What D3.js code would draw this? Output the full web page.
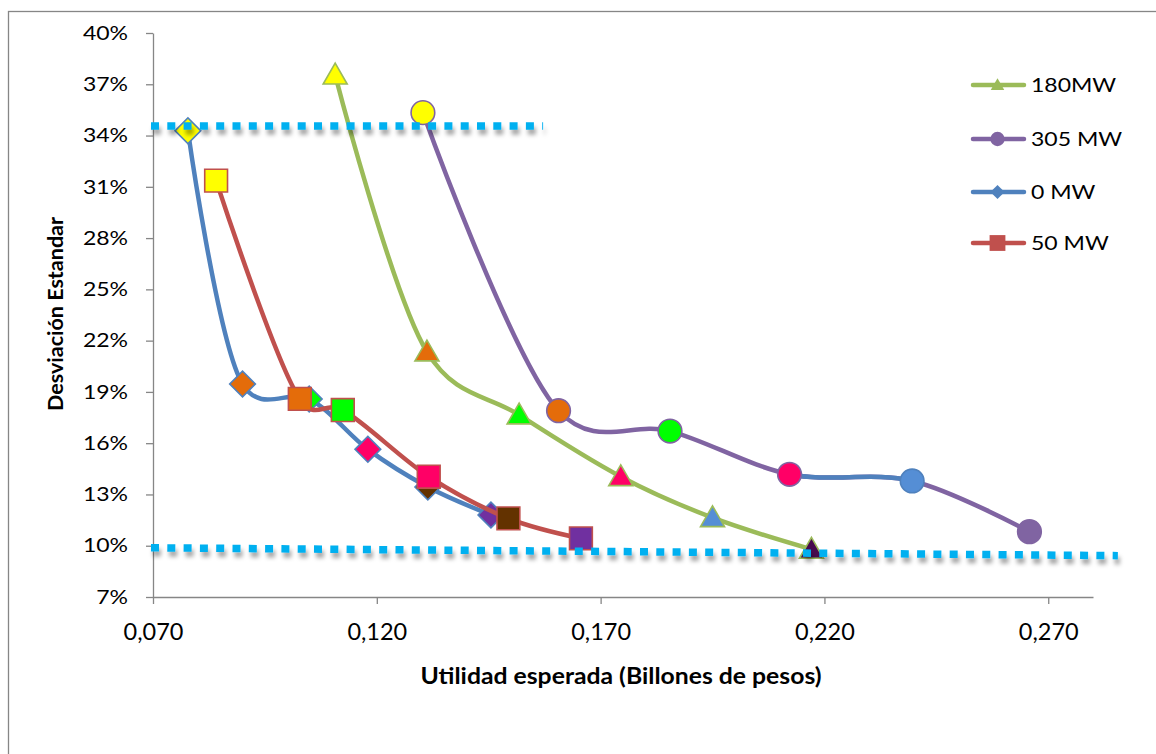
<!DOCTYPE html>
<html>
<head>
<meta charset="utf-8">
<script src="https://cdn.jsdelivr.net/npm/d3@7"></script>
<style>
  html, body { margin: 0; padding: 0; background: #fff; }
  svg { display: block; font-family: Lato, "Open Sans", sans-serif; }
</style>
</head>
<body>
<svg id="chart" width="1156" height="754"></svg>
<script>
// ---------------- DATA ----------------
const seriesNames = ["180MW", "305 MW", "0 MW", "50 MW"];

// Utilidad esperada (billones de pesos) / Desviación estándar (%)
const x180 = [0.1107, 0.1312, 0.1518, 0.1745, 0.1950, 0.2171];
const y180 = [37.54, 21.34, 17.65, 14.04, 11.64, 9.79];

const x305 = [0.1303, 0.1606, 0.1855, 0.2122, 0.2396, 0.2658];
const y305 = [35.34, 17.90, 16.71, 14.18, 13.79, 10.82];

const x0 = [0.0778, 0.0900, 0.1049, 0.1180, 0.1314, 0.1455];
const y0 = [34.28, 19.46, 18.59, 15.64, 13.44, 11.80];

const x50 = [0.0841, 0.1028, 0.1124, 0.1316, 0.1494, 0.1656];
const y50 = [31.36, 18.59, 17.94, 14.04, 11.60, 10.43];

// dotted reference lines (axis units)
const refTopX = [0.070, 0.1576];
const refTopY = [34.56, 34.56];
const refBotX = [0.070, 0.2860];
const refBotY = [9.88, 9.42];

const xTicks = [0.070, 0.120, 0.170, 0.220, 0.270];
const yTicks = [7, 10, 13, 16, 19, 22, 25, 28, 31, 34, 37, 40];

// ---------------- STYLES ----------------
const lineColors = { "180MW": "#9BBB59", "305 MW": "#8064A2", "0 MW": "#4F81BD", "50 MW": "#C0504D" };
const fills180 = ["#FFFF00", "#E46C0A", "#00FF00", "#FF0066", "#558ED5", "#470A4E"];
const fills305 = ["#FFFF00", "#E46C0A", "#00FF00", "#FF0066", "#558ED5", "#8064A2"];
const fills0   = ["#FFFF00", "#E46C0A", "#00FF00", "#FF0066", "#633200", "#7030A0"];
const fills50  = ["#FFFF00", "#E46C0A", "#00FF00", "#FF0066", "#633200", "#7030A0"];

const svg = d3.select("#chart");
const W = 1156, H = 754;

// outer chart frame
svg.append("rect").attr("x", 8.5).attr("y", 11.5).attr("width", 1300).attr("height", 900)
  .attr("fill", "#fff").attr("stroke", "#868686").attr("stroke-width", 1.3);

const plot = { left: 153, right: 1093, top: 33, bottom: 597 };
const x = d3.scaleLinear().domain([0.07, 0.28]).range([plot.left, plot.right]);
const y = d3.scaleLinear().domain([7, 40]).range([plot.bottom, plot.top]);

// helper: horizontal text scale around anchor point
function hscale(sel, sx) {
  sel.each(function () {
    const t = d3.select(this);
    const tx = +t.attr("x") || 0, ty = +t.attr("y") || 0;
    const prev = t.attr("transform") || "";
    t.attr("transform", `${prev} translate(${tx},${ty}) scale(${sx},1) translate(${-tx},${-ty})`);
  });
}

// defs
const defs = svg.append("defs");
const f = defs.append("filter").attr("id", "shadow").attr("filterUnits", "userSpaceOnUse")
  .attr("x", 0).attr("y", 0).attr("width", W).attr("height", H);
f.append("feDropShadow").attr("dx", 2).attr("dy", 5).attr("stdDeviation", 2)
  .attr("flood-color", "#000").attr("flood-opacity", 0.35);
defs.append("clipPath").attr("id", "seg305")
  .append("rect")
  .attr("x", x(x305[3])).attr("y", 0)
  .attr("width", x(x305[4]) - x(x305[3])).attr("height", H);

// axes
const fmtX = d => d3.format(".3f")(d).replace(".", ",");
const xAxis = svg.append("g").attr("transform", `translate(0,${plot.bottom})`)
  .call(d3.axisBottom(x).tickValues(xTicks).tickFormat(fmtX).tickSize(7).tickSizeOuter(0).tickPadding(19));
const yAxis = svg.append("g").attr("transform", `translate(${plot.left},0)`)
  .call(d3.axisLeft(y).tickValues(yTicks).tickFormat(d => d + "%").tickSize(7).tickSizeOuter(0).tickPadding(18));
[xAxis, yAxis].forEach(a => {
  a.select(".domain").attr("stroke", "#868686").attr("stroke-width", 1.3);
  a.selectAll(".tick line").attr("stroke", "#868686").attr("stroke-width", 1.3);
  a.selectAll(".tick text").attr("fill", "#000").attr("font-family", "Lato, sans-serif");
});
xAxis.selectAll(".tick text").attr("font-size", 23.5);
yAxis.selectAll(".tick text").attr("font-size", 19.5);
hscale(yAxis.selectAll(".tick text"), 1.18);

// axis titles
const xt = svg.append("text").attr("x", 621).attr("y", 684).attr("text-anchor", "middle")
  .attr("font-weight", "bold").attr("font-size", 22.5).attr("fill", "#000")
  .text("Utilidad esperada (Billones de pesos)");
hscale(xt, 1.1);
const yt = svg.append("text").attr("x", 0).attr("y", 0).attr("text-anchor", "middle")
  .attr("font-weight", "bold").attr("font-size", 21.5).attr("fill", "#000")
  .attr("transform", "translate(63,314) rotate(-90)")
  .text("Desviación Estandar");

// series
const symTri = d3.symbol().type(d3.symbolTriangle);
const symCirc = d3.symbol().type(d3.symbolCircle);
const symSq = d3.symbol().type(d3.symbolSquare);

const series = [
  { name: "180MW", xs: x180, ys: y180, fills: fills180, sym: symTri, size: 250, rot: 0, dy: 2 },
  { name: "305 MW", xs: x305, ys: y305, fills: fills305, sym: symCirc, size: 440, rot: 0, dy: 0 },
  { name: "0 MW", xs: x0, ys: y0, fills: fills0, sym: symSq, size: 330, rot: 45, dy: 0 },
  { name: "50 MW", xs: x50, ys: y50, fills: fills50, sym: symSq, size: 520, rot: 0, dy: 0 }
];

const line = d3.line().x(d => x(d[0])).y(d => y(d[1])).curve(d3.curveCatmullRom.alpha(0.2));

series.forEach(s => {
  const pts = s.xs.map((v, i) => [v, s.ys[i]]);
  const g = svg.append("g");
  g.append("path").attr("d", line(pts)).attr("fill", "none")
    .attr("stroke", lineColors[s.name]).attr("stroke-width", 4.5)
    .attr("stroke-linecap", "round").attr("stroke-linejoin", "round");
  if (s.name === "305 MW") {
    g.append("path").attr("d", line(pts)).attr("fill", "none")
      .attr("clip-path", "url(#seg305)")
      .attr("stroke", "#4F81BD").attr("stroke-width", 4.5);
  }
  g.selectAll("path.m").data(pts).enter().append("path").attr("class", "m")
    .attr("d", s.sym.size(s.size))
    .attr("transform", d => `translate(${x(d[0])},${y(d[1]) + s.dy}) rotate(${s.rot})`)
    .attr("fill", (d, i) => s.fills[i])
    .attr("stroke", (d, i) => {
      if (s.name === "305 MW" && i === 5) return s.fills[i];
      if (s.name === "305 MW" && i === 4) return "#4F81BD";
      return lineColors[s.name];
    })
    .attr("stroke-width", 1.6);
});

// dotted reference lines
const refLine = d3.line().x(d => x(d[0])).y(d => y(d[1]));
[[refTopX, refTopY], [refBotX, refBotY]].forEach(([xs, ys]) => {
  svg.append("path").attr("d", refLine(xs.map((v, i) => [v, ys[i]])))
    .attr("fill", "none").attr("stroke", "#00B0F0").attr("stroke-width", 7.5)
    .attr("stroke-dasharray", "8,8.3").attr("filter", "url(#shadow)")
    .attr("transform", "translate(-2,0)");
});

// legend
const legY = [85, 139, 192, 243];
const legSyms = [
  { sym: symTri, size: 80, rot: 0, dy: 1 },
  { sym: symCirc, size: 160, rot: 0, dy: 0 },
  { sym: symSq, size: 100, rot: 45, dy: 0 },
  { sym: symSq, size: 250, rot: 0, dy: 0 }
];
const leg = svg.append("g");
seriesNames.forEach((n, i) => {
  const c = lineColors[n];
  leg.append("line").attr("x1", 973).attr("x2", 1024).attr("y1", legY[i]).attr("y2", legY[i])
    .attr("stroke", c).attr("stroke-width", 4.5).attr("stroke-linecap", "round");
  leg.append("path").attr("d", legSyms[i].sym.size(legSyms[i].size)())
    .attr("transform", `translate(997.5,${legY[i] + legSyms[i].dy}) rotate(${legSyms[i].rot})`)
    .attr("fill", c);
  const t = leg.append("text").attr("x", 1031).attr("y", legY[i]).attr("dy", "0.35em")
    .attr("font-size", 19.5).attr("fill", "#000").text(n);
  hscale(t, 1.18);
});
</script>
</body>
</html>
